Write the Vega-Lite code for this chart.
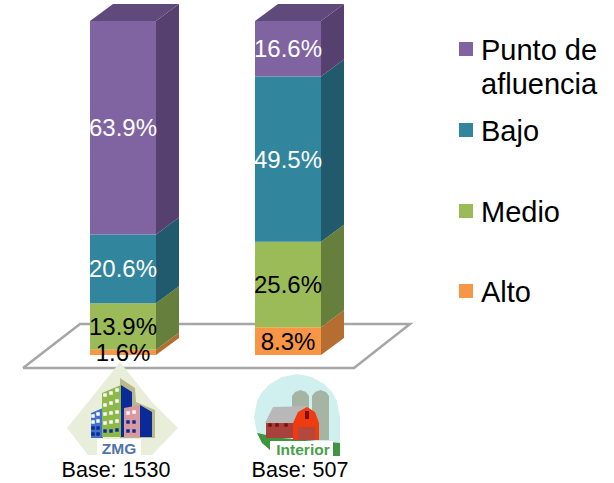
{"$schema":"https://vega.github.io/schema/vega-lite/v6.json","width":614,"height":483,"padding":0,"autosize":{"type":"fit","contains":"padding"},"background":"white","config":{"view":{"stroke":null}},
"datasets":{
"floor":[{"i":0,"x":23,"v":-3.89},{"i":1,"x":80,"v":9.28},{"i":2,"x":410,"v":9.28},{"i":3,"x":354,"v":-3.89},{"i":4,"x":23,"v":-3.89}],
"front":[
{"bar":"ZMG","seg":"Alto","x0":90,"x1":156,"v0":0,"v1":1.6,"mid":0.8,"xc":123,"label":"1.6%"},
{"bar":"ZMG","seg":"Medio","x0":90,"x1":156,"v0":1.6,"v1":15.5,"mid":8.55,"xc":123,"label":"13.9%"},
{"bar":"ZMG","seg":"Bajo","x0":90,"x1":156,"v0":15.5,"v1":36.1,"mid":25.8,"xc":123,"label":"20.6%"},
{"bar":"ZMG","seg":"Punto de afluencia","x0":90,"x1":156,"v0":36.1,"v1":100,"mid":68.05,"xc":123,"label":"63.9%"},
{"bar":"Interior","seg":"Alto","x0":255,"x1":321,"v0":0,"v1":8.3,"mid":4.15,"xc":288,"label":"8.3%"},
{"bar":"Interior","seg":"Medio","x0":255,"x1":321,"v0":8.3,"v1":33.9,"mid":21.1,"xc":288,"label":"25.6%"},
{"bar":"Interior","seg":"Bajo","x0":255,"x1":321,"v0":33.9,"v1":83.4,"mid":58.65,"xc":288,"label":"49.5%"},
{"bar":"Interior","seg":"Punto de afluencia","x0":255,"x1":321,"v0":83.4,"v1":100,"mid":91.7,"xc":288,"label":"16.6%"}],
"side":[
{"bar":"ZMG","seg":"Alto","x":156,"lo":0,"hi":1.6},{"bar":"ZMG","seg":"Alto","x":179,"lo":5.09,"hi":6.69},
{"bar":"ZMG","seg":"Medio","x":156,"lo":1.6,"hi":15.5},{"bar":"ZMG","seg":"Medio","x":179,"lo":6.69,"hi":20.59},
{"bar":"ZMG","seg":"Bajo","x":156,"lo":15.5,"hi":36.1},{"bar":"ZMG","seg":"Bajo","x":179,"lo":20.59,"hi":41.19},
{"bar":"ZMG","seg":"Punto de afluencia","x":156,"lo":36.1,"hi":100},{"bar":"ZMG","seg":"Punto de afluencia","x":179,"lo":41.19,"hi":105.09},
{"bar":"Interior","seg":"Alto","x":321,"lo":0,"hi":8.3},{"bar":"Interior","seg":"Alto","x":344,"lo":5.09,"hi":13.39},
{"bar":"Interior","seg":"Medio","x":321,"lo":8.3,"hi":33.9},{"bar":"Interior","seg":"Medio","x":344,"lo":13.39,"hi":38.99},
{"bar":"Interior","seg":"Bajo","x":321,"lo":33.9,"hi":83.4},{"bar":"Interior","seg":"Bajo","x":344,"lo":38.99,"hi":88.49},
{"bar":"Interior","seg":"Punto de afluencia","x":321,"lo":83.4,"hi":100},{"bar":"Interior","seg":"Punto de afluencia","x":344,"lo":88.49,"hi":105.09}],
"top":[
{"bar":"ZMG","x":90,"lo":100,"hi":100},{"bar":"ZMG","x":113,"lo":100,"hi":105.09},{"bar":"ZMG","x":156,"lo":100,"hi":105.09},{"bar":"ZMG","x":179,"lo":105.09,"hi":105.09},
{"bar":"Interior","x":255,"lo":100,"hi":100},{"bar":"Interior","x":278,"lo":100,"hi":105.09},{"bar":"Interior","x":321,"lo":100,"hi":105.09},{"bar":"Interior","x":344,"lo":105.09,"hi":105.09}],
"legend":[
{"seg":"Punto de afluencia","x":466,"tx":481,"y":49,"t1":"Punto de"},
{"seg":"Bajo","x":466,"tx":481,"y":130,"t1":"Bajo"},
{"seg":"Medio","x":466,"tx":481,"y":211,"t1":"Medio"},
{"seg":"Alto","x":466,"tx":481,"y":291,"t1":"Alto"},
{"seg":"Punto de afluencia","tx":481,"y":83,"t1":"afluencia"}],
"icons":[
{"id":"a1","part":"diamond","x":67,"y":428,"y2":428},{"id":"a1","part":"diamond","x":88,"y":455,"y2":402},{"id":"a1","part":"diamond","x":120,"y":455,"y2":362},{"id":"a1","part":"diamond","x":152,"y":455,"y2":402},{"id":"a1","part":"diamond","x":178,"y":428,"y2":428},
{"id":"a2","part":"shadow","x":120,"y":438,"y2":378},{"id":"a2","part":"shadow","x":135,"y":438,"y2":388},{"id":"a2","part":"shadow","x":136,"y":438,"y2":402},{"id":"a2","part":"shadow","x":155,"y":438,"y2":410},
{"id":"a3","part":"bluebld","x":91,"y":438,"y2":413},{"id":"a3","part":"bluebld","x":103,"y":438,"y2":408},
{"id":"a4","part":"greenbld","x":102,"y":437,"y2":393},{"id":"a4","part":"greenbld","x":121,"y":437,"y2":385},
{"id":"a5","part":"navy","x":121,"y":437,"y2":385},{"id":"a5","part":"navy","x":132,"y":437,"y2":392},
{"id":"a6","part":"pinkbld","x":124,"y":437,"y2":408},{"id":"a6","part":"pinkbld","x":140,"y":437,"y2":405},
{"id":"a7","part":"navy","x":140,"y":437,"y2":405},{"id":"a7","part":"navy","x":152,"y":437,"y2":412},
{"id":"a8","part":"box","x":97,"y":455,"y2":439},{"id":"a8","part":"box","x":141,"y":455,"y2":439},
{"id":"b1","part":"sky","x":254,"y":417,"y2":417},{"id":"b1","part":"sky","x":257,"y":433,"y2":401},{"id":"b1","part":"sky","x":262,"y":443,"y2":392},{"id":"b1","part":"sky","x":270,"y":450,"y2":384},{"id":"b1","part":"sky","x":282,"y":456,"y2":377},{"id":"b1","part":"sky","x":297,"y":456,"y2":374},{"id":"b1","part":"sky","x":312,"y":456,"y2":377},{"id":"b1","part":"sky","x":324,"y":456,"y2":384},{"id":"b1","part":"sky","x":332,"y":456,"y2":392},{"id":"b1","part":"sky","x":337,"y":456,"y2":401},{"id":"b1","part":"sky","x":340,"y":456,"y2":417},
{"id":"b2","part":"ground","x":257,"y":433,"y2":433},{"id":"b2","part":"ground","x":262,"y":443,"y2":434},{"id":"b2","part":"ground","x":270,"y":450,"y2":436},{"id":"b2","part":"ground","x":282,"y":456,"y2":438},{"id":"b2","part":"ground","x":340,"y":456,"y2":443},
{"id":"b3","part":"silo","x":292,"y":412,"y2":396},{"id":"b3","part":"silo","x":295,"y":412,"y2":392},{"id":"b3","part":"silo","x":300.5,"y":412,"y2":390},{"id":"b3","part":"silo","x":306,"y":412,"y2":392},{"id":"b3","part":"silo","x":309,"y":412,"y2":396},
{"id":"b4","part":"silo","x":312,"y":440,"y2":396},{"id":"b4","part":"silo","x":315,"y":440,"y2":392},{"id":"b4","part":"silo","x":320.5,"y":440,"y2":390},{"id":"b4","part":"silo","x":326,"y":440,"y2":392},{"id":"b4","part":"silo","x":329,"y":440,"y2":396},
{"id":"b5","part":"roof","x":265,"y":423,"y2":423},{"id":"b5","part":"roof","x":273,"y":423,"y2":407},{"id":"b5","part":"roof","x":293,"y":423,"y2":406.5},{"id":"b5","part":"roof","x":307,"y":406,"y2":406},
{"id":"b6","part":"wall","x":266,"y":438,"y2":423},{"id":"b6","part":"wall","x":293,"y":438,"y2":423},
{"id":"b7","part":"red","x":293,"y":440,"y2":423},{"id":"b7","part":"red","x":298,"y":440,"y2":412},{"id":"b7","part":"red","x":307,"y":440,"y2":407},{"id":"b7","part":"red","x":315,"y":440,"y2":412},{"id":"b7","part":"red","x":319,"y":440,"y2":423},
{"id":"b8","part":"door","x":298,"y":440,"y2":427},{"id":"b8","part":"door","x":315,"y":440,"y2":427},
{"id":"b9","part":"dark","x":305,"y":419,"y2":411},{"id":"b9","part":"dark","x":309,"y":419,"y2":411},
{"id":"b10","part":"box","x":270,"y":456,"y2":441},{"id":"b10","part":"box","x":333,"y":456,"y2":441}],
"windows":[
{"x":105,"y":395,"c":"white"},{"x":111,"y":393,"c":"white"},{"x":117,"y":390,"c":"white"},
{"x":105,"y":405,"c":"white"},{"x":111,"y":403,"c":"white"},{"x":117,"y":401,"c":"white"},
{"x":105,"y":414,"c":"white"},{"x":111,"y":413,"c":"white"},{"x":117,"y":412,"c":"white"},
{"x":105,"y":423,"c":"white"},{"x":111,"y":422,"c":"white"},{"x":117,"y":421,"c":"white"},
{"x":105,"y":431,"c":"navy"},{"x":111,"y":431,"c":"navy"},{"x":117,"y":430,"c":"navy"},
{"x":128,"y":413,"c":"white"},{"x":134,"y":412,"c":"white"},{"x":128,"y":422,"c":"navy"},{"x":134,"y":422,"c":"navy"},{"x":128,"y":431,"c":"navy"},{"x":134,"y":431,"c":"navy"},
{"x":93,"y":416,"c":"white"},{"x":98,"y":414,"c":"white"},{"x":93,"y":422,"c":"white"},{"x":98,"y":421,"c":"white"},{"x":93,"y":428,"c":"navy"},{"x":98,"y":428,"c":"navy"},{"x":93,"y":434,"c":"navy"},{"x":98,"y":434,"c":"navy"},
{"x":270,"y":425,"c":"dark"},{"x":277,"y":425,"c":"dark"},{"x":286,"y":425,"c":"dark"}],
"iconText":[{"x":119,"y":448,"t":"ZMG","c":"z"},{"x":303,"y":449,"t":"Interior","c":"i"}],
"bases":[{"x":116,"y":470,"t":"Base: 1530"},{"x":300,"y":470,"t":"Base: 507"}]
},
"layer":[
{"data":{"name":"floor"},"mark":{"type":"line","color":"#a6a6a6","strokeWidth":2.5,"strokeJoin":"miter"},"encoding":{"x":{"field":"x","type":"quantitative","scale":{"domain":[0,614],"nice":false,"zero":false},"axis":null},"y":{"field":"v","type":"quantitative","scale":{"domain":[-38.32,106.29],"nice":false,"zero":false},"axis":null},"order":{"field":"i","type":"quantitative"}}},
{"data":{"name":"front"},"mark":{"type":"rect"},"encoding":{"x":{"field":"x0","type":"quantitative","scale":{"domain":[0,614],"nice":false,"zero":false},"axis":null},"x2":{"field":"x1"},"y":{"field":"v0","type":"quantitative","scale":{"domain":[-38.32,106.29],"nice":false,"zero":false},"axis":null},"y2":{"field":"v1"},"color":{"field":"seg","type":"nominal","legend":null,"scale":{"domain":["Punto de afluencia","Bajo","Medio","Alto"],"range":["#8064a2","#31859c","#9bbb59","#f79646"]}}}},
{"data":{"name":"side"},"mark":{"type":"area","orient":"vertical"},"encoding":{"x":{"field":"x","type":"quantitative","scale":{"domain":[0,614],"nice":false,"zero":false},"axis":null},"y":{"field":"lo","type":"quantitative","scale":{"domain":[-38.32,106.29],"nice":false,"zero":false},"axis":null},"y2":{"field":"hi"},"detail":{"field":"bar"},"color":{"field":"seg","type":"nominal","legend":null,"scale":{"domain":["Punto de afluencia","Bajo","Medio","Alto"],"range":["#55406f","#215a6c","#677f3c","#b56d30"]}}}},
{"data":{"name":"top"},"mark":{"type":"area","orient":"vertical","color":"#604a7b"},"encoding":{"x":{"field":"x","type":"quantitative","scale":{"domain":[0,614],"nice":false,"zero":false},"axis":null},"y":{"field":"lo","type":"quantitative","scale":{"domain":[-38.32,106.29],"nice":false,"zero":false},"axis":null},"y2":{"field":"hi"},"detail":{"field":"bar"}}},
{"data":{"name":"front"},"transform":[{"filter":{"field":"seg","oneOf":["Punto de afluencia","Bajo"]}}],"mark":{"type":"text","font":"Liberation Sans","fontSize":24,"dy":1.5,"color":"white","baseline":"middle","align":"center"},"encoding":{"x":{"field":"xc","type":"quantitative","scale":{"domain":[0,614],"nice":false,"zero":false},"axis":null},"y":{"field":"mid","type":"quantitative","scale":{"domain":[-38.32,106.29],"nice":false,"zero":false},"axis":null},"text":{"field":"label"}}},
{"data":{"name":"front"},"transform":[{"filter":{"field":"seg","oneOf":["Medio","Alto"]}}],"mark":{"type":"text","font":"Liberation Sans","fontSize":24,"dy":1.5,"color":"black","baseline":"middle","align":"center"},"encoding":{"x":{"field":"xc","type":"quantitative","scale":{"domain":[0,614],"nice":false,"zero":false},"axis":null},"y":{"field":"mid","type":"quantitative","scale":{"domain":[-38.32,106.29],"nice":false,"zero":false},"axis":null},"text":{"field":"label"}}},
{"data":{"name":"legend"},"transform":[{"filter":"isValid(datum.x)"}],"mark":{"type":"point","shape":"square","filled":true,"size":196,"opacity":1},"encoding":{"x":{"field":"x","type":"quantitative","scale":{"domain":[0,614],"nice":false,"zero":false},"axis":null},"y":{"field":"y","type":"quantitative","scale":{"domain":[483,0],"nice":false,"zero":false},"axis":null},"color":{"field":"seg","type":"nominal","legend":null,"scale":{"domain":["Punto de afluencia","Bajo","Medio","Alto"],"range":["#8064a2","#31859c","#9bbb59","#f79646"]}}}},
{"data":{"name":"legend"},"mark":{"type":"text","font":"Liberation Sans","fontSize":29,"dy":1.5,"color":"black","align":"left","baseline":"middle"},"encoding":{"x":{"field":"tx","type":"quantitative","scale":{"domain":[0,614],"nice":false,"zero":false},"axis":null},"y":{"field":"y","type":"quantitative","scale":{"domain":[483,0],"nice":false,"zero":false},"axis":null},"text":{"field":"t1"}}},
{"data":{"name":"icons"},"mark":{"type":"area","orient":"vertical"},"encoding":{"x":{"field":"x","type":"quantitative","scale":{"domain":[0,614],"nice":false,"zero":false},"axis":null},"y":{"field":"y","type":"quantitative","scale":{"domain":[483,0],"nice":false,"zero":false},"axis":null},"y2":{"field":"y2"},"detail":{"field":"id"},"color":{"field":"part","type":"nominal","legend":null,"scale":{"domain":["diamond","shadow","bluebld","greenbld","navy","pinkbld","box","sky","ground","silo","roof","wall","red","door","dark"],"range":["#e9eedb","#b9ba8c","#4472c9","#8fb84a","#0a2a9a","#d99a9f","#ffffff","#d0f0f0","#3f9440","#a6b5a3","#b8b8b8","#a8413c","#f03a10","#b5483a","#7a0f0f"]}}}},
{"data":{"name":"windows"},"mark":{"type":"point","shape":"square","filled":true,"size":12,"opacity":1},"encoding":{"x":{"field":"x","type":"quantitative","scale":{"domain":[0,614],"nice":false,"zero":false},"axis":null},"y":{"field":"y","type":"quantitative","scale":{"domain":[483,0],"nice":false,"zero":false},"axis":null},"color":{"field":"c","type":"nominal","legend":null,"scale":{"domain":["white","navy","dark"],"range":["#ffffff","#0a2a9a","#7a0f0f"]}}}},
{"data":{"name":"iconText"},"mark":{"type":"text","font":"Liberation Sans","fontSize":15.5,"dy":0.5,"fontWeight":"bold","baseline":"middle","align":"center"},"encoding":{"x":{"field":"x","type":"quantitative","scale":{"domain":[0,614],"nice":false,"zero":false},"axis":null},"y":{"field":"y","type":"quantitative","scale":{"domain":[483,0],"nice":false,"zero":false},"axis":null},"text":{"field":"t"},"color":{"field":"c","type":"nominal","legend":null,"scale":{"domain":["z","i"],"range":["#4f74a8","#4aa04a"]}}}},
{"data":{"name":"bases"},"mark":{"type":"text","font":"Liberation Sans","fontSize":21.5,"dy":0.5,"color":"black","baseline":"middle","align":"center"},"encoding":{"x":{"field":"x","type":"quantitative","scale":{"domain":[0,614],"nice":false,"zero":false},"axis":null},"y":{"field":"y","type":"quantitative","scale":{"domain":[483,0],"nice":false,"zero":false},"axis":null},"text":{"field":"t"}}}
],
"resolve":{"scale":{"y":"independent","color":"independent"}}}
